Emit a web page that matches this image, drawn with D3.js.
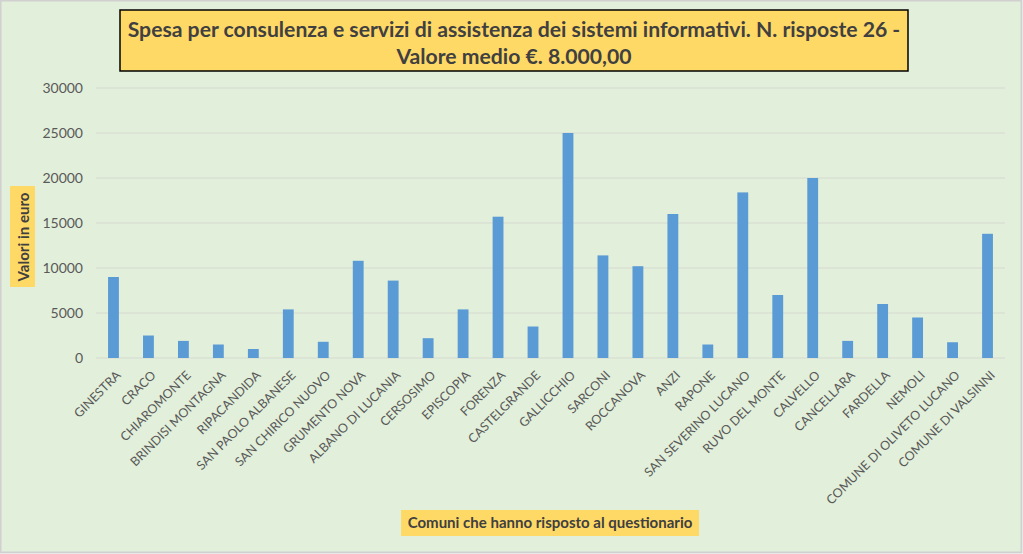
<!DOCTYPE html>
<html><head><meta charset="utf-8">
<script src="https://cdn.jsdelivr.net/npm/d3@7"></script>
<style>
html,body{margin:0;padding:0;background:#fff;}
svg{display:block;}
text{font-family:Lato,"Open Sans",sans-serif;}
</style></head>
<body><svg id="c" width="1023" height="554"></svg>
<script>
const categories = ["GINESTRA","CRACO","CHIAROMONTE","BRINDISI MONTAGNA","RIPACANDIDA","SAN PAOLO ALBANESE","SAN CHIRICO NUOVO","GRUMENTO NOVA","ALBANO DI LUCANIA","CERSOSIMO","EPISCOPIA","FORENZA","CASTELGRANDE","GALLICCHIO","SARCONI","ROCCANOVA","ANZI","RAPONE","SAN SEVERINO LUCANO","RUVO DEL MONTE","CALVELLO","CANCELLARA","FARDELLA","NEMOLI","COMUNE DI OLIVETO LUCANO","COMUNE DI VALSINNI"];
const values = [9000,2500,1900,1500,1000,5400,1800,10800,8600,2200,5400,15700,3500,25000,11400,10200,16000,1500,18400,7000,20000,1900,6000,4500,1750,13800];
const yTicks = [0,5000,10000,15000,20000,25000,30000];
const titleLines = ["Spesa per consulenza e servizi di assistenza dei sistemi informativi. N. risposte 26 -","Valore medio €. 8.000,00"];
const yTitle = "Valori in euro";
const xTitle = "Comuni che hanno risposto al questionario";

(function(){
const svg = d3.select("#c");
svg.append("rect").attr("x",0.5).attr("y",0.5).attr("width",1021).attr("height",552)
  .attr("fill","#E2EFDA").attr("stroke","#D0D0D0").attr("stroke-width",2);

const pL=96, pR=1005, pT=88, pB=358;
const x = d3.scaleBand().domain(categories).range([pL,pR]).paddingInner(0.69).paddingOuter(0.345);
const y = d3.scaleLinear().domain([0,30000]).range([pB,pT]);

svg.append("g").selectAll("line").data(yTicks).join("line")
  .attr("x1",pL).attr("x2",pR).attr("y1",d=>y(d)).attr("y2",d=>y(d))
  .attr("stroke","#D4D9D0").attr("stroke-width",1);

const ya = svg.append("g").attr("transform",`translate(${pL},0)`)
  .call(d3.axisLeft(y).tickValues(yTicks).tickSize(0).tickPadding(13).tickFormat(d3.format("d")));
ya.select(".domain").remove();
ya.selectAll("text").attr("fill","#595959").style("font-size","14px").style("font-family","Lato,'Open Sans',sans-serif");

svg.append("g").selectAll("rect").data(values).join("rect")
  .attr("x",(d,i)=>x(categories[i])).attr("width",x.bandwidth())
  .attr("y",d=>y(d)).attr("height",d=>y(0)-y(d)).attr("fill","#5B9BD5");

const xa = svg.append("g").attr("transform",`translate(0,${pB})`)
  .call(d3.axisBottom(x).tickSize(0).tickPadding(0));
xa.select(".domain").remove();
xa.selectAll("text").attr("fill","#595959").style("font-size","12.5px")
  .style("font-family","Lato,'Open Sans',sans-serif")
  .attr("text-anchor","end").attr("dy","0.35em")
  .attr("transform","translate(5,15) rotate(-45)");

svg.append("rect").attr("x",120).attr("y",10).attr("width",788).attr("height",61)
  .attr("fill","#FFD966").attr("stroke","#000").attr("stroke-width",1.5);
const tg = svg.append("g").attr("fill","#404040").style("font-weight","bold");
titleLines.forEach((t,i)=>{
  tg.append("text").attr("x",514).attr("y",[37,64][i]).attr("text-anchor","middle")
    .style("font-size","20px").text(t);
});
const w0 = tg.select("text").node().getComputedTextLength();
tg.selectAll("text").style("font-size",(20*773/w0)+"px");

svg.append("rect").attr("x",10).attr("y",186).attr("width",25).attr("height",101).attr("fill","#FFD966");
const yt = svg.append("text").attr("transform","translate(28.5,237) rotate(-90)").attr("text-anchor","middle")
  .attr("fill","#404040").style("font-weight","bold").style("font-size","14px").text(yTitle);
yt.style("font-size",(14*89/yt.node().getComputedTextLength())+"px");

svg.append("rect").attr("x",401).attr("y",510).attr("width",298).attr("height",26).attr("fill","#FFD966");
const xt = svg.append("text").attr("x",550).attr("y",528).attr("text-anchor","middle")
  .attr("fill","#404040").style("font-weight","bold").style("font-size","14px").text(xTitle);
xt.style("font-size",(14*285/xt.node().getComputedTextLength())+"px");
})();
</script></body></html>
